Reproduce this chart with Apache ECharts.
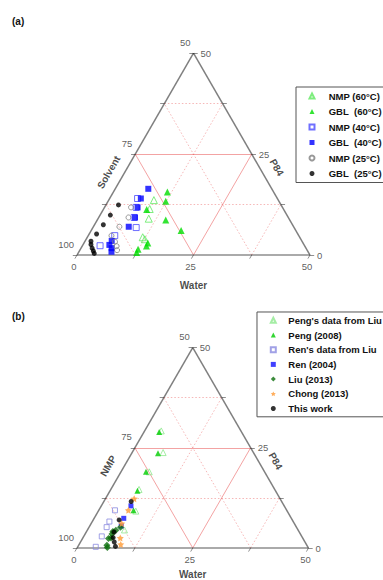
<!DOCTYPE html>
<html><head><meta charset="utf-8">
<script src="https://cdn.jsdelivr.net/npm/echarts@6/dist/echarts.min.js"></script>
<style>html,body{margin:0;padding:0;background:#fff}#c{width:383px;height:580px}</style>
</head><body><div id="c"></div>
<script>
// ---------- data: each point is [Water %, P84 %]; Solvent = 100 - Water - P84 ----------
const panelLabels = ['(a)', '(b)'];
const waterTicks = [0, 25, 50];
const p84Ticks = [0, 25, 50];
const solventTicks = [100, 75, 50];
const tickSteps = [0, 12.5, 25, 37.5, 50];
const majorLevels = [25];
const minorLevels = [12.5, 37.5];
const axisTitlesA = ['Water', 'Solvent', 'P84'];
const axisTitlesB = ['Water', 'NMP', 'P84'];

// panel (a)
const namesA = ['NMP (60°C)', 'GBL\u00a0\u00a0(60°C)', 'NMP (40°C)', 'GBL\u00a0\u00a0(40°C)', 'NMP (25°C)', 'GBL\u00a0\u00a0(25°C)'];
const nmp60 = [[9.7,13.6],[9.9,11.4],[10.9,9.0],[11.9,4.4],[12.6,3.9]];
const gbl60 = [[11.6,15.6],[12.4,13.3],[9.3,11.3],[14.7,8.7],[19.3,6.1],[13.7,3.0],[13.8,2.2],[12.4,1.4],[12.5,0.6]];
const nmp40 = [[6.0,14.0],[6.8,11.8],[7.6,9.3],[9.3,6.8],[5.7,4.8],[3.8,2.3]];
const gbl40 = [[7.1,16.4],[6.7,14.0],[7.1,11.8],[7.8,9.3],[7.6,7.0],[5.7,3.5],[5.7,2.5],[6.6,1.7],[7.0,0.8]];
const nmp25 = [[5.7,11.8],[6.4,9.3],[5.6,7.0],[5.0,4.8],[6.5,3.3],[7.4,2.2],[8.0,1.2]];
const gbl25 = [[2.7,12.4],[2.2,9.9],[1.9,7.5],[1.6,5.2],[1.3,3.4],[1.7,2.6],[2.4,1.7],[3.0,1.0],[3.5,0.4]];

// panel (b)
const namesB = ["Peng's data from Liu", 'Peng (2008)', "Ren's data from Liu", 'Ren (2004)', 'Liu (2013)', 'Chong (2013)', 'This work'];
const pengLiu = [[3.6,29.2],[6.7,23.8],[6.1,19.0],[6.1,14.6],[8.1,9.2],[8.0,4.5]];
const peng2008 = [[3.3,28.9],[5.7,23.6],[5.4,19.0],[5.9,14.3],[7.5,9.4]];
const renLiu = [[3.5,9.4],[3.7,6.6],[3.8,5.2],[3.9,2.9],[3.9,0.3]];
const ren2004 = [[6.4,10.5],[6.4,7.4],[6.8,5.5]];
const liu2013 = [[6.8,5.2],[6.2,4.4],[5.7,4.1],[5.8,3.5],[5.6,2.4],[6.1,2.5],[6.1,0.7],[6.5,0.1]];
const chong2013 = [[6.2,12.3],[6.4,9.4],[6.6,6.1],[8.1,2.5],[9.0,0.9]];
const thisWork = [[5.9,11.6],[5.6,7.0],[6.0,4.0],[6.5,2.6],[7.3,1.5],[8.1,0.4]];

// ---------- helpers ----------
const S3 = Math.sqrt(3) / 2;
const FULL = 50;
const toXY = (w, p) => [w + p / 2, p * S3];
const FONT = 'Liberation Sans, Arial, sans-serif';
const STAR = 'path://M0,-10L2.94,-4.05L9.51,-3.09L4.76,1.55L5.88,8.09L0,5L-5.88,8.09L-4.76,1.55L-9.51,-3.09L-2.94,-4.05Z';

function linesSeries(gi, segs, style, z) {
  return { type: 'lines', coordinateSystem: 'cartesian2d', xAxisIndex: gi, yAxisIndex: gi,
    silent: true, clip: false, z: z || 2, lineStyle: style, data: segs.map(s => ({ coords: s })) };
}
function gridSegs(levels) {
  const segs = [];
  levels.forEach(L => {
    segs.push([toXY(0, L), toXY(FULL - L, L)]);      // constant P84
    segs.push([toXY(L, 0), toXY(L, FULL - L)]);      // constant water
    segs.push([toXY(L, 0), toXY(0, L)]);             // constant solvent
  });
  return segs;
}
function labelSeries(gi, items, label) {
  return { type: 'scatter', xAxisIndex: gi, yAxisIndex: gi, symbol: 'circle', symbolSize: 1,
    silent: true, clip: false, z: 6, itemStyle: { color: 'rgba(0,0,0,0)' },
    label: Object.assign({ show: true, position: 'inside', formatter: '{b}', fontFamily: FONT }, label),
    data: items };
}
function dataSeries(gi, name, pts, symbol, size, color, open) {
  return { type: 'scatter', name, xAxisIndex: gi, yAxisIndex: gi, symbol, symbolSize: size,
    clip: false, z: 5, emphasis: { disabled: true },
    itemStyle: open ? { color: 'rgba(255,255,255,0)', borderColor: color, borderWidth: 1 }
                    : { color: color, borderWidth: 0 },
    data: pts.map(d => toXY(d[0], d[1])) };
}
function frame(gi, titles, waterOffset) {
  const tl = 0.9, out = [];
  out.push(linesSeries(gi, gridSegs(minorLevels), { color: '#ee7070', width: 1, type: [1.5, 2] }, 1));
  out.push(linesSeries(gi, gridSegs(majorLevels), { color: '#e84848', width: 1 }, 2));
  out.push(linesSeries(gi, [[toXY(0, 0), toXY(0, FULL)], [toXY(FULL, 0), toXY(0, FULL)]], { color: '#000', width: 1.5 }, 3));
  out.push(linesSeries(gi, [[toXY(0, 0), toXY(FULL, 0)]], { color: '#555', width: 2 }, 3));
  const ticks = [];
  tickSteps.forEach(t => {
    const l = toXY(0, t); ticks.push([l, [l[0] - tl, l[1]]]);
    const r = toXY(FULL - t, t); ticks.push([r, [r[0] + tl, r[1]]]);
    const b = toXY(t, 0); ticks.push([b, [b[0] - tl * 0.5, b[1] - tl * S3]]);
  });
  out.push(linesSeries(gi, ticks, { color: '#222', width: 1 }, 3));
  const tickFont = { fontSize: 9.5, color: '#333' };
  out.push(labelSeries(gi, solventTicks.map(s => ({ name: String(s), value: toXY(0, 100 - s) })),
    Object.assign({ align: 'right', verticalAlign: 'middle', offset: [-3, -11] }, tickFont)));
  out.push(labelSeries(gi, p84Ticks.map(p => ({ name: String(p), value: toXY(FULL - p, p) })),
    Object.assign({ align: 'left', verticalAlign: 'middle', offset: [7, 0] }, tickFont)));
  out.push(labelSeries(gi, waterTicks.map(w => ({ name: String(w), value: toXY(w, 0) })),
    Object.assign({ align: 'center', verticalAlign: 'middle', offset: [-3, 11] }, tickFont)));
  const tf = { fontSize: 10, fontWeight: 'bold', color: '#1a1a1a', align: 'center', verticalAlign: 'middle' };
  out.push(labelSeries(gi, [{ name: titles[0], value: toXY(FULL / 2, 0) }], Object.assign({ offset: [0, waterOffset] }, tf)));
  out.push(labelSeries(gi, [{ name: titles[1], value: toXY(0, FULL / 2) }], Object.assign({ offset: [-29, -14], rotate: 60 }, tf)));
  out.push(labelSeries(gi, [{ name: titles[2], value: toXY(FULL / 2, FULL / 2) }], Object.assign({ offset: [24, -15], rotate: -60 }, tf)));
  return out;
}

const series = [].concat(
  frame(0, axisTitlesA, 30),
  frame(1, axisTitlesB, 26),
  [
    dataSeries(0, namesA[0], nmp60, 'triangle', 7, '#5fe85f', true),
    dataSeries(0, namesA[1], gbl60, 'triangle', 7, '#00dd00', false),
    dataSeries(0, namesA[2], nmp40, 'rect', 6, '#4b4bff', true),
    dataSeries(0, namesA[3], gbl40, 'rect', 6, '#0000ff', false),
    dataSeries(0, namesA[4], nmp25, 'circle', 5, '#808080', true),
    dataSeries(0, namesA[5], gbl25, 'circle', 5, '#000000', false),
    dataSeries(1, namesB[0], pengLiu, 'triangle', 6, '#8fe88f', true),
    dataSeries(1, namesB[1], peng2008, 'triangle', 6, '#00cc00', false),
    dataSeries(1, namesB[2], renLiu, 'rect', 5, '#8a8ae0', true),
    dataSeries(1, namesB[3], ren2004, 'rect', 5, '#1010ff', false),
    dataSeries(1, namesB[4], liu2013, 'diamond', 7, '#0b6e0b', false),
    dataSeries(1, namesB[5], chong2013, STAR, 7, '#ff9a33', false),
    dataSeries(1, namesB[6], thisWork, 'circle', 5, '#000000', false)
  ]
);

const legendTextA = { fontFamily: FONT, fontSize: 9.5, fontWeight: 'bold', color: '#111', lineHeight: 12, padding: [0, 0, 0, 9.2] };
const legendTextB = { fontFamily: FONT, fontSize: 9.5, fontWeight: 'bold', color: '#111', lineHeight: 12, padding: [0, 0, 0, 7.5] };
const option = {
  animation: false,
  backgroundColor: '#fff',
  title: [
    { text: panelLabels[0], left: 12, top: 16, padding: 0, textStyle: { fontFamily: FONT, fontSize: 10, fontWeight: 'bold', color: '#111' } },
    { text: panelLabels[1], left: 12, top: 311, padding: 0, textStyle: { fontFamily: FONT, fontSize: 10, fontWeight: 'bold', color: '#111' } }
  ],
  grid: [
    { left: 77, top: 255 - 233 * S3, width: 233, height: 233 * S3 },
    { left: 77, top: 548 - 231.5 * S3, width: 231.5, height: 231.5 * S3 }
  ],
  xAxis: [
    { type: 'value', gridIndex: 0, min: 0, max: FULL, show: false },
    { type: 'value', gridIndex: 1, min: 0, max: FULL, show: false }
  ],
  yAxis: [
    { type: 'value', gridIndex: 0, min: 0, max: FULL * S3, show: false },
    { type: 'value', gridIndex: 1, min: 0, max: FULL * S3, show: false }
  ],
  legend: [
    { data: namesA, orient: 'vertical', left: 296, top: 87, padding: [3, 3, 3, 12.5], itemGap: 3.5,
      itemWidth: 5, itemHeight: 5, borderColor: '#555', borderWidth: 1, selectedMode: false, textStyle: legendTextA },
    { data: namesB, orient: 'vertical', left: 257, top: 312, padding: [2.3, 3, 2.3, 12.8], itemGap: 2.7,
      itemWidth: 5, itemHeight: 5, borderColor: '#555', borderWidth: 1, selectedMode: false, textStyle: legendTextB }
  ],
  series: series
};
const chart = echarts.init(document.getElementById('c'), null, { renderer: 'svg' });
chart.setOption(option);
</script></body></html>
